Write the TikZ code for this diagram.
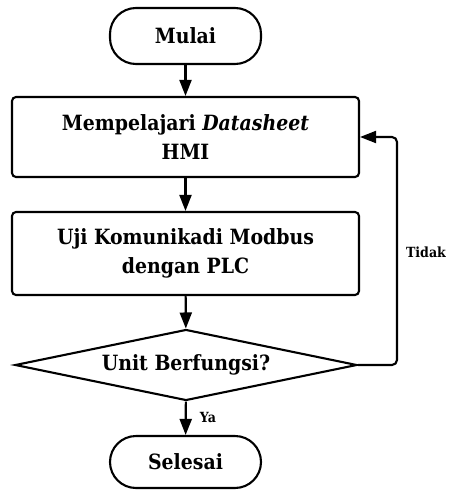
\documentclass[tikz,border=0pt]{standalone}
\usepackage{fontspec}
\setmainfont{DejaVu Serif Condensed}
\usetikzlibrary{shapes.geometric,arrows.meta}
\begin{document}
\begin{tikzpicture}[x=1pt,y=-1pt,
  txt/.style={font=\bfseries\fontsize{21}{29}\selectfont, align=center, inner sep=0pt},
  term/.style={txt, draw, line width=2.1pt, rounded corners=26pt, minimum width=151pt},
  proc/.style={txt, draw, line width=2.1pt, rounded corners=4pt, minimum width=347pt},
  dec/.style={txt, draw, diamond, line width=2.1pt, minimum width=342pt, minimum height=71pt, aspect=4.8},
  lbl/.style={font=\bfseries\fontsize{14}{16}\selectfont, inner sep=0pt},
  flow/.style={line width=2.1pt, -{Triangle[length=16pt,width=12pt]}}
]
\useasboundingbox (0,0) rectangle (449,490);

\node[term, minimum height=56pt] (start) at (185.5,36) {Mulai};
\node[proc, minimum height=80pt] (study) at (185.5,137) {Mempelajari \textit{Datasheet}\\HMI};
\node[proc, minimum height=83pt] (test) at (185.5,253.5) {Uji Komunikadi Modbus\\dengan PLC};
\node[dec] (check) at (186,365) {Unit Berfungsi?};
\node[term, minimum height=52pt] (stop) at (185.5,462) {Selesai};

\draw[flow] (start) -- (study);
\draw[flow] (study) -- (test);
\draw[flow] (test) -- (check);
\draw[flow] (check) -- (stop);
\draw[flow, rounded corners=5pt] (check.east) -- (397,365) -- (397,137) -- (study.east);

\node[lbl] (no) at (426,252) {Tidak};
\node[lbl] (yes) at (208,417) {Ya};
\end{tikzpicture}
\end{document}
